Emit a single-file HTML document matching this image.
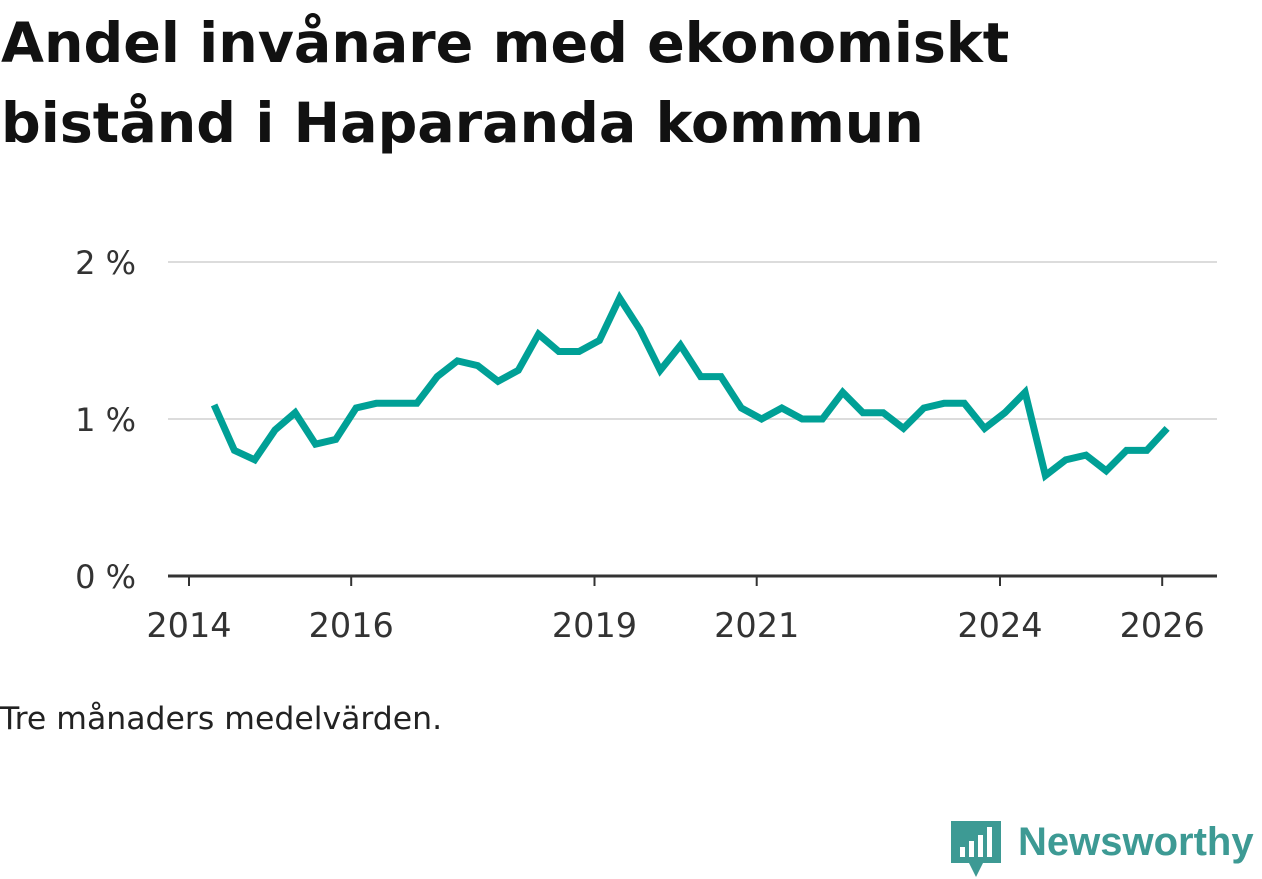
<!DOCTYPE html>
<html><head><meta charset="utf-8"><style>
body{margin:0;width:1262px;height:879px;background:#fff;font-family:"DejaVu Sans","Liberation Sans",sans-serif;overflow:hidden;position:relative}
h1{position:absolute;left:1px;top:4px;margin:0;font-size:55.5px;line-height:80px;font-weight:bold;color:#111;font-family:"DejaVu Sans",sans-serif}
.note{position:absolute;left:0;top:701px;font-size:31.5px;color:#222}
.logo{position:absolute;left:1018px;top:820px;font-size:40px;font-weight:bold;color:#3d9a94;font-family:"Liberation Sans",sans-serif}
</style></head><body>
<h1>Andel invånare med ekonomiskt<br>bistånd i Haparanda kommun</h1>
<svg id="chart" width="1262" height="879" style="position:absolute;left:0;top:0"></svg>
<div class="note">Tre månaders medelvärden.</div>
<svg style="position:absolute;left:951px;top:821px" width="50" height="58">
<path d="M0 0H50V42H32L25 56L18 42H0Z" fill="#3d9a94"/>
<rect x="9" y="26" width="5" height="10" fill="#fff"/><rect x="18" y="20" width="5" height="16" fill="#fff"/><rect x="27" y="14" width="5" height="22" fill="#fff"/><rect x="36" y="6" width="5" height="30" fill="#fff"/>
</svg>
<div class="logo">Newsworthy</div>
<script>
const startYear = 2014.31;
const values = [1.09,0.80,0.74,0.93,1.04,0.84,0.87,1.07,1.10,1.10,1.10,1.27,1.37,1.34,1.24,1.31,1.54,1.43,1.43,1.50,1.77,1.57,1.31,1.47,1.27,1.27,1.07,1.00,1.07,1.00,1.00,1.17,1.04,1.04,0.94,1.07,1.10,1.10,0.94,1.04,1.17,0.64,0.74,0.77,0.67,0.80,0.80,0.94];
const yTicks = [0,1,2];
const yTickLabels = ["0 %","1 %","2 %"];
const xTicks = [2014,2016,2019,2021,2024,2026];
const NS="http://www.w3.org/2000/svg";
const svg=document.getElementById('chart');
const xs=y=>189+(y-2014)*81.1;
const ys=v=>576-v*157;
function mk(t,a){const e=document.createElementNS(NS,t);for(const k in a)e.setAttribute(k,a[k]);svg.appendChild(e);return e;}
yTicks.forEach((t,i)=>{
  if(t>0){const g=mk('line',{x1:168,x2:1217,y1:ys(t),y2:ys(t),stroke:'#dcdcdc','stroke-width':2});
  
  }
  const l=mk('text',{x:136,y:ys(t)+12,'text-anchor':'end','font-size':32,fill:'#333','font-family':'DejaVu Sans, sans-serif'});
  l.textContent=yTickLabels[i];
  
  
});
const ax=mk('line',{x1:168,x2:1217,y1:576,y2:576,stroke:'#333','stroke-width':3});


xTicks.forEach(t=>{
  const tk=mk('line',{x1:xs(t),x2:xs(t),y1:576,y2:586,stroke:'#333','stroke-width':2});
  
  
  const l=mk('text',{x:xs(t),y:637,'text-anchor':'middle','font-size':33.5,fill:'#333','font-family':'DejaVu Sans, sans-serif'});
  l.textContent=t;
  
  
});
const pts=values.map((v,i)=>xs(startYear+i*0.25).toFixed(1)+','+ys(v).toFixed(1)).join(' ');
const line=mk('polyline',{points:pts,fill:'none',stroke:'#00a096','stroke-width':7,'stroke-linejoin':'miter'});


</script>
</body></html>
